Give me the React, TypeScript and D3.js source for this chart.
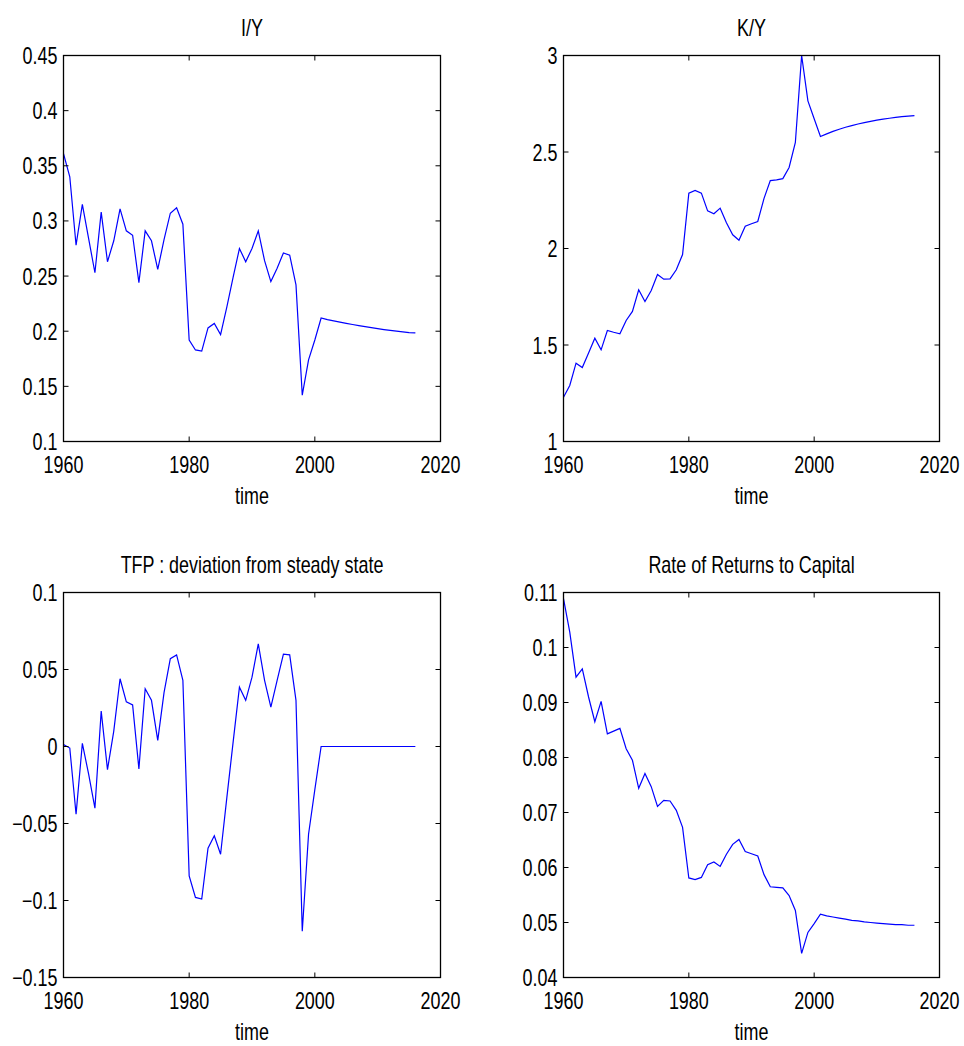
import React from "react";
import * as d3 from "d3";

const years: number[] = d3.range(1960, 2017);

const iyValues: number[] = [
  0.361, 0.340, 0.278, 0.315, 0.284, 0.253, 0.308, 0.263, 0.282, 0.311,
  0.291, 0.287, 0.244, 0.291, 0.282, 0.256, 0.283, 0.307, 0.312, 0.297,
  0.192, 0.183, 0.182, 0.203, 0.207, 0.197, 0.222, 0.249, 0.275, 0.263,
  0.275, 0.291, 0.264, 0.245, 0.257, 0.271, 0.269, 0.242, 0.142, 0.174,
  0.192, 0.212, 0.2105, 0.2093, 0.2082, 0.2071, 0.2061, 0.2051, 0.2042, 0.2033,
  0.2024, 0.2015, 0.2007, 0.2000, 0.1994, 0.1988, 0.1985,
];

const kyValues: number[] = [
  1.229, 1.290, 1.406, 1.383, 1.458, 1.535, 1.475, 1.575, 1.566, 1.558,
  1.627, 1.674, 1.786, 1.725, 1.782, 1.865, 1.841, 1.843, 1.890, 1.969,
  2.287, 2.301, 2.287, 2.195, 2.180, 2.209, 2.133, 2.071, 2.043, 2.115,
  2.128, 2.140, 2.260, 2.352, 2.356, 2.362, 2.420, 2.550, 3.000, 2.765,
  2.672, 2.580, 2.594, 2.607, 2.618, 2.628, 2.637, 2.645, 2.652, 2.659,
  2.665, 2.670, 2.675, 2.679, 2.683, 2.686, 2.688,
];

const tfpValues: number[] = [
  0.0013, -0.001, -0.044, 0.002, -0.018, -0.040, 0.023, -0.015, 0.010, 0.044,
  0.029, 0.027, -0.0145, 0.0375, 0.030, 0.004, 0.035, 0.057, 0.0595, 0.043,
  -0.084, -0.098, -0.099, -0.066, -0.058, -0.070, -0.033, 0.003, 0.0385, 0.030,
  0.045, 0.0667, 0.043, 0.0255, 0.043, 0.060, 0.0595, 0.030, -0.120, -0.057,
  -0.028, 0, 0, 0, 0, 0, 0, 0, 0, 0,
  0, 0, 0, 0, 0, 0, 0,
];

const rateValues: number[] = [
  0.1089, 0.1028, 0.0946, 0.0961, 0.0910, 0.0865, 0.0902, 0.0843, 0.0848, 0.0853,
  0.0816, 0.0795, 0.0744, 0.0771, 0.0747, 0.0711, 0.0722, 0.0721, 0.0704, 0.0673,
  0.0581, 0.0578, 0.0582, 0.0605, 0.0610, 0.0602, 0.0624, 0.0642, 0.0651, 0.0629,
  0.0625, 0.0621, 0.0587, 0.0565, 0.0564, 0.0563, 0.0549, 0.0522, 0.0444, 0.0482,
  0.0498, 0.0515, 0.0512, 0.0510, 0.0508, 0.0506, 0.0504, 0.0503, 0.0501, 0.0500,
  0.0499, 0.0498, 0.0497, 0.0496, 0.0496, 0.0495, 0.0495,
];

const xTicks: number[] = [1960, 1980, 2000, 2020];
const iyTicks: number[] = [0.1, 0.15, 0.2, 0.25, 0.3, 0.35, 0.4, 0.45];
const iyTickLabels: string[] = ["0.1", "0.15", "0.2", "0.25", "0.3", "0.35", "0.4", "0.45"];
const kyTicks: number[] = [1, 1.5, 2, 2.5, 3];
const kyTickLabels: string[] = ["1", "1.5", "2", "2.5", "3"];
const tfpTicks: number[] = [-0.15, -0.1, -0.05, 0, 0.05, 0.1];
const tfpTickLabels: string[] = ["\u22120.15", "\u22120.1", "\u22120.05", "0", "0.05", "0.1"];
const rateTicks: number[] = [0.04, 0.05, 0.06, 0.07, 0.08, 0.09, 0.1, 0.11];
const rateTickLabels: string[] = ["0.04", "0.05", "0.06", "0.07", "0.08", "0.09", "0.1", "0.11"];

const titles: string[] = ["I/Y", "K/Y", "TFP : deviation from steady state", "Rate of Returns to Capital"];
const xLabel = "time";

const FONT = "'Liberation Sans', Arial, Helvetica, sans-serif";
const FS = 23;
const SX = 0.78;

function Txt(props: { x: number; y: number; anchor: string; children: React.ReactNode }) {
  return (
    <text
      transform={`translate(${props.x},${props.y}) scale(${SX},1)`}
      textAnchor={props.anchor as any}
      fontFamily={FONT}
      fontSize={FS}
      fill="#000"
    >
      {props.children}
    </text>
  );
}

type PanelProps = {
  left: number;
  right: number;
  top: number;
  bottom: number;
  values: number[];
  yDomain: [number, number];
  yTicks: number[];
  yTickLabels: string[];
  title: string;
};

function Panel(p: PanelProps) {
  const x = d3.scaleLinear().domain([1960, 2020]).range([p.left, p.right]);
  const y = d3.scaleLinear().domain(p.yDomain).range([p.bottom, p.top]);
  const line = d3
    .line<number>()
    .x((_, i) => x(years[i]))
    .y((d) => y(d));
  const tl = 5;
  const cx = (p.left + p.right) / 2;
  return (
    <g>
      <path d={line(p.values) || ""} fill="none" stroke="#0000ff" strokeWidth={1.2} />
      {xTicks.map((t) => (
        <g key={"xt" + t}>
          <line x1={x(t)} x2={x(t)} y1={p.bottom} y2={p.bottom - tl} stroke="#000" strokeWidth={1} />
          <line x1={x(t)} x2={x(t)} y1={p.top} y2={p.top + tl} stroke="#000" strokeWidth={1} />
          <Txt x={x(t)} y={p.bottom + 31} anchor="middle">{String(t)}</Txt>
        </g>
      ))}
      {p.yTicks.map((t, i) => (
        <g key={"yt" + i}>
          <line x1={p.left} x2={p.left + tl} y1={y(t)} y2={y(t)} stroke="#000" strokeWidth={1} />
          <line x1={p.right} x2={p.right - tl} y1={y(t)} y2={y(t)} stroke="#000" strokeWidth={1} />
          <Txt x={p.left - 6} y={y(t) + 8.5} anchor="end">{p.yTickLabels[i]}</Txt>
        </g>
      ))}
      <rect
        x={p.left}
        y={p.top}
        width={p.right - p.left}
        height={p.bottom - p.top}
        fill="none"
        stroke="#000"
        strokeWidth={1.3}
      />
      <Txt x={cx} y={p.top - 20} anchor="middle">{p.title}</Txt>
      <Txt x={cx} y={p.bottom + 62} anchor="middle">{xLabel}</Txt>
    </g>
  );
}

export default function App() {
  const L1 = 63.5, R1 = 440.5, L2 = 563.5, R2 = 939.5;
  const T1 = 55.5, B1 = 441.5, T2 = 592.5, B2 = 977.5;
  return (
    <svg
      width={964}
      height={1046}
      style={{ position: "absolute", left: 0, top: 0, background: "#fff" }}
    >
      <rect x={0} y={0} width={964} height={1046} fill="#fff" />
      <Panel left={L1} right={R1} top={T1} bottom={B1} values={iyValues} yDomain={[0.1, 0.45]} yTicks={iyTicks} yTickLabels={iyTickLabels} title={titles[0]} />
      <Panel left={L2} right={R2} top={T1} bottom={B1} values={kyValues} yDomain={[1, 3]} yTicks={kyTicks} yTickLabels={kyTickLabels} title={titles[1]} />
      <Panel left={L1} right={R1} top={T2} bottom={B2} values={tfpValues} yDomain={[-0.15, 0.1]} yTicks={tfpTicks} yTickLabels={tfpTickLabels} title={titles[2]} />
      <Panel left={L2} right={R2} top={T2} bottom={B2} values={rateValues} yDomain={[0.04, 0.11]} yTicks={rateTicks} yTickLabels={rateTickLabels} title={titles[3]} />
    </svg>
  );
}
